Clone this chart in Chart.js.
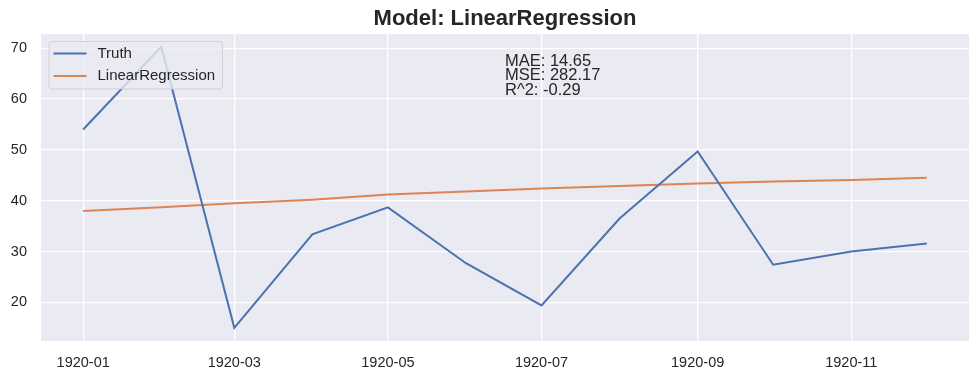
<!DOCTYPE html>
<html>
<head>
<meta charset="utf-8">
<script src="https://cdn.jsdelivr.net/npm/chart.js@4"></script>
<style>
html,body{margin:0;padding:0;background:#fff;}
#wrap{width:980px;height:379px;position:relative;}
</style>
</head>
<body>
<div id="wrap"><canvas id="c" width="980" height="379"></canvas></div>
<script>
const months = ["1920-01","1920-02","1920-03","1920-04","1920-05","1920-06","1920-07","1920-08","1920-09","1920-10","1920-11","1920-12"];
const truth = [54.0, 70.3, 15.0, 33.4, 38.7, 27.7, 19.4, 36.5, 49.7, 27.4, 30.0, 31.6];
const linreg = [38.0, 38.7, 39.5, 40.2, 41.2, 41.8, 42.4, 42.9, 43.4, 43.8, 44.1, 44.5];
const xTickLabels = ["1920-01","1920-03","1920-05","1920-07","1920-09","1920-11"];
const yTicks = [20, 30, 40, 50, 60, 70];
const metrics = ["MAE: 14.65", "MSE: 282.17", "R^2: -0.29"];
const seriesNames = ["Truth", "LinearRegression"];
const titleText = "Model: LinearRegression";

const DAY = 86400000;
const t0 = Date.UTC(1920, 0, 1);
function dayOf(label) {
  const [y, m] = label.split("-").map(Number);
  return (Date.UTC(y, m - 1, 1) - t0) / DAY;
}
const xs = months.map(dayOf);
const span = xs[xs.length - 1] - xs[0];
const xMin = xs[0] - span * 0.05, xMax = xs[xs.length - 1] + span * 0.05;
const tickDays = xTickLabels.map(dayOf);
const labelByDay = {};
xTickLabels.forEach((l, i) => labelByDay[tickDays[i]] = l);

const FONT = "'Liberation Sans', Arial, 'DejaVu Sans', sans-serif";
const BLUE = "#4C72B0", ORANGE = "#DD8452", TEXT = "#262626";

const overlay = {
  id: "overlay",
  beforeDraw(chart) {
    const {ctx, chartArea: a} = chart;
    ctx.save();
    ctx.fillStyle = "#EAEAF2";
    ctx.fillRect(a.left, a.top, a.right - a.left, a.bottom - a.top);
    ctx.restore();
  },
  afterDraw(chart) {
    const {ctx, chartArea: a} = chart;
    ctx.save();
    const mx = (a.left + a.right) / 2;
    // title
    ctx.font = "bold 22px " + FONT;
    ctx.fillStyle = TEXT;
    ctx.textAlign = "center";
    ctx.textBaseline = "middle";
    ctx.fillText(titleText, mx, 19);
    ctx.textAlign = "left";
    // legend box
    const bx = a.left + 8, by = a.top + 7.5, bw = 173.5, bh = 47.5;
    ctx.fillStyle = "rgba(234,234,242,0.8)";
    ctx.strokeStyle = "rgba(204,204,204,0.8)";
    ctx.lineWidth = 1;
    ctx.beginPath();
    if (ctx.roundRect) ctx.roundRect(bx, by, bw, bh, 3); else ctx.rect(bx, by, bw, bh);
    ctx.fill(); ctx.stroke();
    const colors = [BLUE, ORANGE];
    ctx.font = "15px " + FONT;
    ctx.textBaseline = "middle";
    seriesNames.forEach((n, i) => {
      const ly = by + 12 + i * 22.5;
      ctx.strokeStyle = colors[i];
      ctx.lineWidth = 2;
      ctx.beginPath();
      ctx.moveTo(bx + 4.5, ly); ctx.lineTo(bx + 37.5, ly);
      ctx.stroke();
      ctx.fillStyle = TEXT;
      ctx.fillText(n, bx + 48.5, ly);
    });
    // metrics text
    ctx.font = "16.5px " + FONT;
    ctx.fillStyle = TEXT;
    ctx.textBaseline = "middle";
    metrics.forEach((m, i) => ctx.fillText(m, mx, a.top + 27 + i * 14.8));
    ctx.restore();
  }
};

new Chart(document.getElementById("c"), {
  type: "line",
  data: {
    datasets: [
      { label: seriesNames[0], data: xs.map((x, i) => ({x, y: truth[i]})), borderColor: BLUE, backgroundColor: BLUE, borderWidth: 2, pointRadius: 0, tension: 0 },
      { label: seriesNames[1], data: xs.map((x, i) => ({x, y: linreg[i]})), borderColor: ORANGE, backgroundColor: ORANGE, borderWidth: 2, pointRadius: 0, tension: 0 }
    ]
  },
  options: {
    responsive: false,
    animation: false,
    devicePixelRatio: 1,
    layout: { padding: { left: 0, right: 11, top: 34, bottom: 0 } },
    plugins: {
      legend: { display: false },
      tooltip: { enabled: false },
      title: { display: false }
    },
    scales: {
      x: {
        type: "linear",
        min: xMin, max: xMax,
        afterBuildTicks(s) { s.ticks = tickDays.map(v => ({value: v})); },
        afterFit(s) { s.height = 38; },
        grid: { color: "#FFFFFF", lineWidth: 1.3, drawTicks: false },
        border: { display: false },
        ticks: {
          color: TEXT, padding: 13, maxRotation: 0,
          font: { family: FONT, size: 14.5 },
          callback: v => labelByDay[v] || ""
        }
      },
      y: {
        min: 12.4, max: 72.8,
        afterBuildTicks(s) { s.ticks = yTicks.map(v => ({value: v})); },
        afterFit(s) { s.width = 41; },
        grid: { color: "#FFFFFF", lineWidth: 1.3, drawTicks: false },
        border: { display: false },
        ticks: {
          color: TEXT, padding: 14,
          font: { family: FONT, size: 14.5 }
        }
      }
    }
  },
  plugins: [overlay]
});
</script>
</body>
</html>
